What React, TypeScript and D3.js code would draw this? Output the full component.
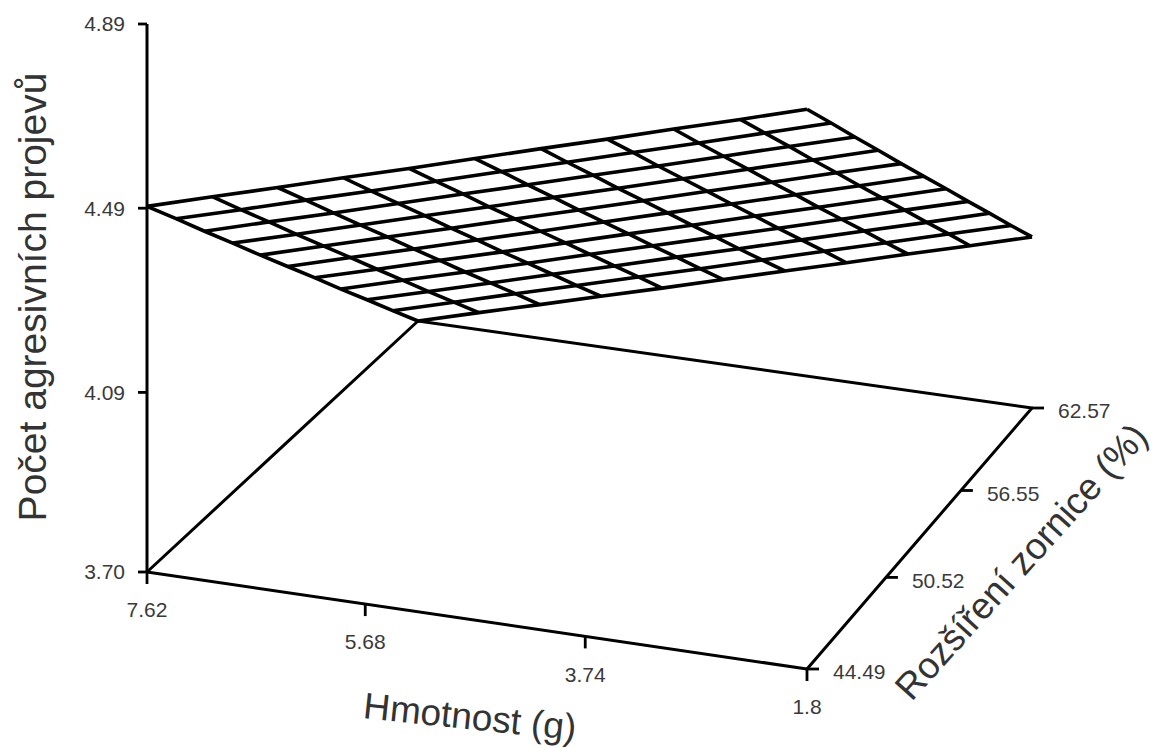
import React from 'react'
import * as d3 from 'd3'

// Data: regression surface, nodes on an 11 x 11 grid
const hmotnost = [7.62, 7.038, 6.456, 5.874, 5.292, 4.71, 4.128, 3.546, 2.964, 2.382, 1.8]
const zornice = [44.49, 46.298, 48.106, 49.914, 51.722, 53.53, 55.338, 57.146, 58.954, 60.762, 62.57]
// one row per zornice value, one column per hmotnost value
const agrese = [
  [4.494, 4.534, 4.573, 4.613, 4.652, 4.692, 4.732, 4.771, 4.811, 4.850, 4.890],
  [4.415, 4.454, 4.494, 4.533, 4.573, 4.613, 4.652, 4.692, 4.731, 4.771, 4.811],
  [4.335, 4.375, 4.414, 4.454, 4.494, 4.533, 4.573, 4.612, 4.652, 4.692, 4.731],
  [4.256, 4.295, 4.335, 4.375, 4.414, 4.454, 4.493, 4.533, 4.573, 4.612, 4.652],
  [4.176, 4.216, 4.256, 4.295, 4.335, 4.374, 4.414, 4.454, 4.493, 4.533, 4.572],
  [4.097, 4.137, 4.176, 4.216, 4.255, 4.295, 4.335, 4.374, 4.414, 4.453, 4.493],
  [4.018, 4.057, 4.097, 4.136, 4.176, 4.216, 4.255, 4.295, 4.334, 4.374, 4.414],
  [3.938, 3.978, 4.017, 4.057, 4.097, 4.136, 4.176, 4.215, 4.255, 4.295, 4.334],
  [3.859, 3.898, 3.938, 3.978, 4.017, 4.057, 4.096, 4.136, 4.176, 4.215, 4.255],
  [3.779, 3.819, 3.859, 3.898, 3.938, 3.977, 4.017, 4.057, 4.096, 4.136, 4.175],
  [3.700, 3.740, 3.779, 3.819, 3.858, 3.898, 3.938, 3.977, 4.017, 4.056, 4.096],
]

const xTickLabels = ['7.62', '5.68', '3.74', '1.8']
const yTickLabels = ['44.49', '50.52', '56.55', '62.57']
const zTickLabels = ['3.70', '4.09', '4.49', '4.89']

const xTitle = 'Hmotnost (g)'
const yTitle = 'Rozšíření zornice (%)'
const zTitle = 'Počet agresivních projevů'

// Layout
const W = 1155
const H = 748
// screen corners of the box floor: front-left, front-right, back-right, back-left
const floor = [[147, 572], [807, 669], [1032, 408], [418, 321]]
const zSpan = 548
// depth falloff of the vertical lift (along hmotnost, along zornice)
const zDepth = [-0.021, 0.087]
const font = '"Liberation Sans", Arial, sans-serif'

// unit square -> quad (perspective), plus a vertical lift that shrinks with depth
function quadProjection(p0, p1, p2, p3, span, depth) {
  const dx1 = p1[0] - p2[0], dx2 = p3[0] - p2[0], dx3 = p0[0] - p1[0] + p2[0] - p3[0]
  const dy1 = p1[1] - p2[1], dy2 = p3[1] - p2[1], dy3 = p0[1] - p1[1] + p2[1] - p3[1]
  const den = dx1 * dy2 - dx2 * dy1
  const g = (dx3 * dy2 - dx2 * dy3) / den
  const h = (dx1 * dy3 - dx3 * dy1) / den
  const a = p1[0] - p0[0] + g * p1[0], b = p3[0] - p0[0] + h * p3[0], c = p0[0]
  const d = p1[1] - p0[1] + g * p1[1], e = p3[1] - p0[1] + h * p3[1], f = p0[1]
  return (u, v, w) => {
    const q = g * u + h * v + 1
    const qz = depth[0] * u + depth[1] * v + 1
    return [(a * u + b * v + c) / q, (d * u + e * v + f) / q - span * w / qz]
  }
}

const App = () => {
  const uScale = d3.scaleLinear().domain([7.62, 1.8]).range([0, 1])
  const vScale = d3.scaleLinear().domain([44.49, 62.57]).range([0, 1])
  const wScale = d3.scaleLinear().domain([3.70, 4.89]).range([0, 1])
  const proj = quadProjection(floor[0], floor[1], floor[2], floor[3], zSpan, zDepth)
  const P = (x, y, z) => proj(uScale(x), vScale(y), wScale(z))

  const path = d3.line()

  // surface polylines
  const rows = zornice.map((y, j) => hmotnost.map((x, i) => P(x, y, agrese[j][i])))
  const cols = hmotnost.map((x, i) => zornice.map((y, j) => P(x, y, agrese[j][i])))
  const last = hmotnost.length - 1
  const outline = [...rows[0], ...cols[last].slice(1), ...rows[last].slice().reverse().slice(1), ...cols[0].slice().reverse().slice(1)]

  const zMin = 3.70
  const x0 = hmotnost[0], x1 = hmotnost[last], y0 = zornice[0], y1 = zornice[last]
  const floorPts = [P(x0, y0, zMin), P(x1, y0, zMin), P(x1, y1, zMin), P(x0, y1, zMin)]
  const zAxisTop = P(x0, y0, +zTickLabels[zTickLabels.length - 1])

  const stroke = { stroke: '#000', strokeWidth: 3, fill: 'none', strokeLinejoin: 'round' }
  const gridStroke = { ...stroke, strokeWidth: 3.6 }

  const xMid = P((x0 + x1) / 2, y0, zMin)
  const yMid = P(x1, (y0 + y1) / 2, zMin)

  return (
    <svg width={W} height={H} style={{ position: 'absolute', left: 0, top: 0, background: '#fff' }}>
      {/* floor */}
      <path d={path([...floorPts, floorPts[0]])} {...stroke} />
      {/* vertical axis */}
      <path d={path([floorPts[0], zAxisTop])} {...stroke} />

      {/* surface */}
      <path d={path(outline) + 'Z'} fill="#fff" stroke="none" />
      {rows.map((r, j) => <path key={'r' + j} d={path(r)} {...gridStroke} />)}
      {cols.map((c, i) => <path key={'c' + i} d={path(c)} {...gridStroke} />)}

      {/* z ticks */}
      {zTickLabels.map(t => {
        const [px, py] = P(x0, y0, +t)
        return (
          <g key={'z' + t}>
            <line x1={px - 9} x2={px} y1={py} y2={py} stroke="#000" strokeWidth={2.8} />
            <text x={px - 22} y={py} dy="0.35em" textAnchor="end" fontSize={21} fontFamily={font} fill="#3a3a3a">{t}</text>
          </g>
        )
      })}

      {/* x ticks */}
      {xTickLabels.map(t => {
        const [px, py] = P(+t, y0, zMin)
        return (
          <g key={'x' + t}>
            <line x1={px} x2={px} y1={py} y2={py + 12} stroke="#000" strokeWidth={2.8} />
            <text x={px} y={py + 38} dy="0.35em" textAnchor="middle" fontSize={21} fontFamily={font} fill="#3a3a3a">{t}</text>
          </g>
        )
      })}

      {/* y ticks */}
      {yTickLabels.map(t => {
        const [px, py] = P(x1, +t, zMin)
        return (
          <g key={'y' + t}>
            <line x1={px} x2={px + 12} y1={py} y2={py} stroke="#000" strokeWidth={2.8} />
            <text x={px + 26} y={py + 3} dy="0.35em" textAnchor="start" fontSize={21} fontFamily={font} fill="#3a3a3a">{t}</text>
          </g>
        )
      })}

      {/* titles */}
      <text transform={`translate(${xMid[0] - 5},${xMid[1] + 96}) rotate(6)`} textAnchor="middle" dy="0.35em"
        fontSize={37} fontFamily={font} fill="#333">{xTitle}</text>
      <text transform={`translate(${yMid[0] + 97},${yMid[1] + 28}) rotate(-48)`} textAnchor="middle" dy="0.35em"
        fontSize={37} fontFamily={font} fill="#333">{yTitle}</text>
      <text transform={`translate(32,297) rotate(-90)`} textAnchor="middle" dy="0.35em"
        fontSize={39} fontFamily={font} fill="#333">{zTitle}</text>
    </svg>
  )
}

export default App
